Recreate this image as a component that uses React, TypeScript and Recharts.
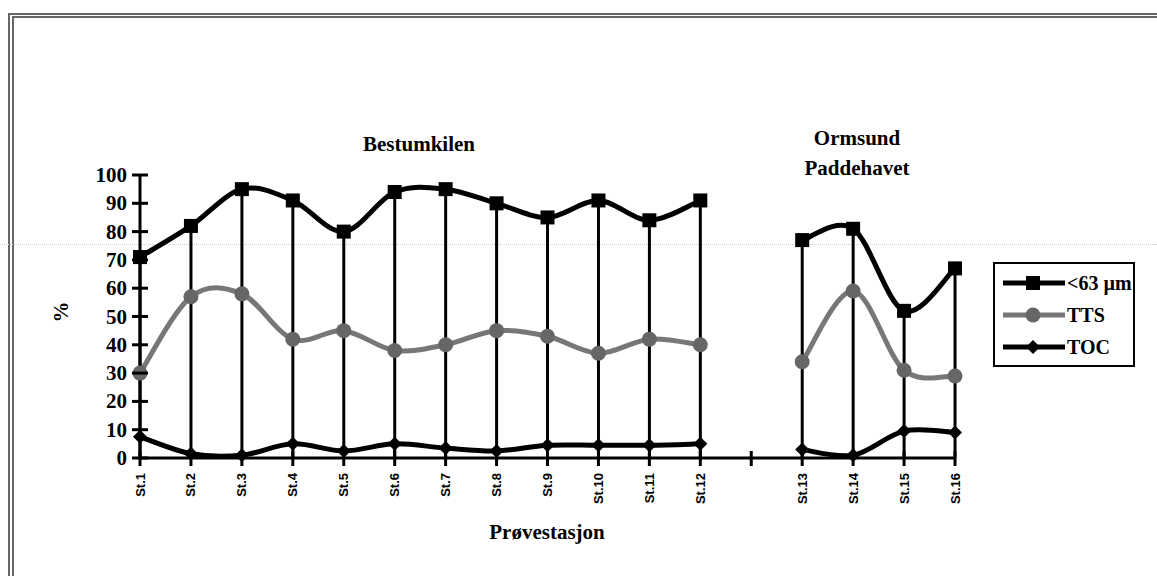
import React from 'react';
import { ComposedChart, Line, Bar, XAxis, YAxis } from 'recharts';

const stations = ['St.1', 'St.2', 'St.3', 'St.4', 'St.5', 'St.6', 'St.7', 'St.8', 'St.9', 'St.10', 'St.11', 'St.12', '', 'St.13', 'St.14', 'St.15', 'St.16'];
const fine = [71, 82, 95, 91, 80, 94, 95, 90, 85, 91, 84, 91, null, 77, 81, 52, 67];
const tts = [30, 57, 58, 42, 45, 38, 40, 45, 43, 37, 42, 40, null, 34, 59, 31, 29];
const toc = [7.5, 1.5, 1, 5, 2.5, 5, 3.5, 2.5, 4.5, 4.5, 4.5, 5, null, 3, 1, 9.5, 9];
const yTicks = [0, 10, 20, 30, 40, 50, 60, 70, 80, 90, 100];

const data = stations.map((name, i) => ({ idx: i + 1, name, fine: fine[i], tts: tts[i], toc: toc[i] }));
const xTicks = data.map((d) => d.idx);

const serif = '"Liberation Serif", "Times New Roman", serif';
const sans = '"Liberation Sans", Arial, sans-serif';
const GREY = '#777';

// excel-like smoothed line (catmull-rom)
function smoothCurve(context: any) {
  let pts: number[][] = [];
  return {
    areaStart() {},
    areaEnd() {},
    lineStart() {
      pts = [];
    },
    lineEnd() {
      const n = pts.length;
      if (!n) return;
      context.moveTo(pts[0][0], pts[0][1]);
      for (let i = 0; i < n - 1; i++) {
        const p0 = pts[i - 1] || pts[i];
        const p1 = pts[i];
        const p2 = pts[i + 1];
        const p3 = pts[i + 2] || p2;
        context.bezierCurveTo(
          p1[0] + (p2[0] - p0[0]) / 6,
          p1[1] + (p2[1] - p0[1]) / 6,
          p2[0] - (p3[0] - p1[0]) / 6,
          p2[1] - (p3[1] - p1[1]) / 6,
          p2[0],
          p2[1]
        );
      }
    },
    point(x: number, y: number) {
      pts.push([+x, +y]);
    },
  };
}

const Square = (p: any) =>
  p.cy == null || p.value == null ? <g key={`s${p.index}`} /> : <rect key={`s${p.index}`} x={p.cx - 7} y={p.cy - 7} width={14} height={14} fill="#000" />;
const Circle = (p: any) =>
  p.cy == null || p.value == null ? <g key={`c${p.index}`} /> : <circle key={`c${p.index}`} cx={p.cx} cy={p.cy} r={7.5} fill="#666" />;
const Diamond = (p: any) =>
  p.cy == null || p.value == null ? (
    <g key={`d${p.index}`} />
  ) : (
    <polygon key={`d${p.index}`} points={`${p.cx},${p.cy - 7} ${p.cx + 7},${p.cy} ${p.cx},${p.cy + 7} ${p.cx - 7},${p.cy}`} fill="#000" />
  );

const XTick = (props: any) => {
  const { x, y, payload } = props;
  const label = stations[payload.value - 1];
  return (
    <g>
      <line x1={x} x2={x} y1={y - 7} y2={y + 8} stroke="#000" strokeWidth={3} />
      <text
        x={x}
        y={y + 15}
        transform={`rotate(-90, ${x}, ${y + 15})`}
        textAnchor="end"
        dominantBaseline="central"
        fontFamily={sans}
        fontWeight="bold"
        fontSize={13}
        fill="#000"
      >
        {label}
      </text>
    </g>
  );
};

const YTick = (props: any) => {
  const { x, y, payload } = props;
  return (
    <g>
      <line x1={x - 8} x2={x + 8} y1={y} y2={y} stroke="#000" strokeWidth={3} />
      <text x={x - 13} y={y} textAnchor="end" dominantBaseline="central" fontFamily={serif} fontWeight="bold" fontSize={21} fill="#000">
        {payload.value}
      </text>
    </g>
  );
};

const legendItems = [
  { name: '<63 µm', color: '#000', marker: 'square' },
  { name: 'TTS', color: GREY, marker: 'circle' },
  { name: 'TOC', color: '#000', marker: 'diamond' },
];

function LegendBox() {
  return (
    <div
      style={{
        position: 'absolute',
        left: 993,
        top: 262,
        width: 138,
        height: 101,
        border: '2px solid #000',
        fontFamily: serif,
        fontWeight: 'bold',
        fontSize: 20,
      }}
    >
      {legendItems.map((it, i) => (
        <div key={it.name} style={{ position: 'absolute', left: 0, top: 8 + i * 32, height: 22, display: 'flex', alignItems: 'center' }}>
          <svg width={72} height={22}>
            <line x1={8} x2={70} y1={11} y2={11} stroke={it.color} strokeWidth={5} />
            {it.marker === 'square' && <rect x={31} y={4} width={14} height={14} fill="#000" />}
            {it.marker === 'circle' && <circle cx={38} cy={11} r={7.5} fill="#666" />}
            {it.marker === 'diamond' && <polygon points="38,4 45,11 38,18 31,11" fill="#000" />}
          </svg>
          <span style={{ lineHeight: '22px' }}>{it.name}</span>
        </div>
      ))}
    </div>
  );
}

const titleStyle: React.CSSProperties = {
  position: 'absolute',
  fontFamily: serif,
  fontWeight: 'bold',
  fontSize: 21,
  color: '#000',
  transform: 'translate(-50%, -50%)',
  whiteSpace: 'nowrap',
  lineHeight: '30px',
  textAlign: 'center',
};

export default function App() {
  return (
    <div style={{ position: 'relative', width: 1157, height: 576, overflow: 'hidden', background: '#fff' }}>
      <style>{'body{margin:0;overflow:hidden}'}</style>
      <div
        style={{
          position: 'absolute',
          left: 8,
          top: 13,
          width: 1200,
          height: 600,
          borderLeft: '6px double #666',
          borderTop: '5px double #666',
        }}
      />
      <div style={{ position: 'absolute', left: 0, top: 244, width: 1157, borderTop: '1px dotted #ccc' }} />
      <div style={{ position: 'absolute', left: 0, top: 0 }}>
        <ComposedChart width={1157} height={576} data={data} margin={{ top: 175, right: 202, bottom: 0, left: 0 }}>
          <XAxis
            dataKey="idx"
            type="number"
            domain={[1, 17]}
            ticks={xTicks}
            interval={0}
            height={118}
            tickSize={0}
            tickMargin={0}
            tickLine={false}
            tick={<XTick />}
            axisLine={{ stroke: '#000', strokeWidth: 3 }}
          />
          <YAxis
            type="number"
            domain={[0, 100]}
            ticks={yTicks}
            interval={0}
            width={140}
            tickSize={0}
            tickMargin={0}
            tickLine={false}
            tick={<YTick />}
            axisLine={{ stroke: '#000', strokeWidth: 3 }}
          />
          <Bar dataKey="fine" barSize={3} fill="#000" isAnimationActive={false} />
          <Line dataKey="tts" stroke={GREY} strokeWidth={5} type={smoothCurve as any} dot={Circle} activeDot={false} connectNulls={false} isAnimationActive={false} />
          <Line dataKey="toc" stroke="#000" strokeWidth={5} type={smoothCurve as any} dot={Diamond} activeDot={false} connectNulls={false} isAnimationActive={false} />
          <Line dataKey="fine" stroke="#000" strokeWidth={5} type={smoothCurve as any} dot={Square} activeDot={false} connectNulls={false} isAnimationActive={false} />
        </ComposedChart>
      </div>
      <div style={{ ...titleStyle, left: 419, top: 144 }}>Bestumkilen</div>
      <div style={{ ...titleStyle, left: 857, top: 153 }}>
        Ormsund
        <br />
        Paddehavet
      </div>
      <div style={{ ...titleStyle, left: 547, top: 532 }}>Prøvestasjon</div>
      <div style={{ ...titleStyle, left: 61, top: 312, transform: 'translate(-50%, -50%) rotate(-90deg)' }}>%</div>
      <LegendBox />
    </div>
  );
}
